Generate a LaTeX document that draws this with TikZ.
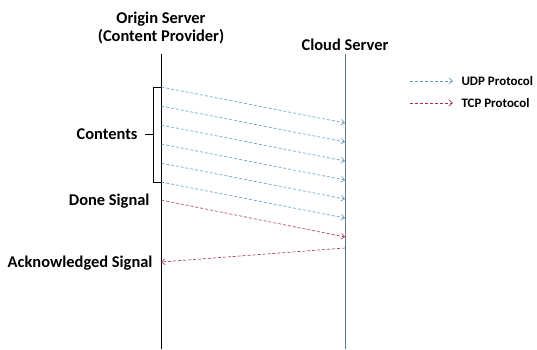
\documentclass[tikz,border=0pt]{standalone}
\usepackage{fontspec}
\setmainfont{Carlito}
\usetikzlibrary{arrows.meta}
\definecolor{udpblue}{RGB}{95,150,195}
\definecolor{tcpred}{RGB}{165,45,80}
\definecolor{lifegray}{RGB}{95,120,145}
\begin{document}
\begin{tikzpicture}
  [x=1bp,y=-1bp,
   every node/.style={font=\bfseries\fontsize{16.5}{19}\selectfont},
   legendtext/.style={font=\bfseries\fontsize{13}{15}\selectfont,anchor=west},
   udp/.style={udpblue,densely dashed,line width=.6pt,-{Straight Barb[length=3.5pt,width=6pt]}},
   tcp/.style={tcpred,densely dashed,line width=.6pt,-{Straight Barb[length=3.5pt,width=6pt]}}]
  \useasboundingbox (0,0) rectangle (537,349);

  \node (origin) at (161,28) [align=center] {Origin Server\\(Content Provider)};
  \node (cloud) at (345,45) {Cloud Server};

  \coordinate (otop) at (161,54);
  \coordinate (obot) at (161,349);
  \coordinate (ctop) at (345,54);
  \coordinate (cbot) at (345,349);
  \draw[line width=.7pt] (otop) -- (obot);
  \draw[lifegray,line width=.7pt] (ctop) -- (cbot);

  \coordinate (o1) at (161,87);
  \coordinate (o2) at (161,106);
  \coordinate (o3) at (161,125);
  \coordinate (o4) at (161,144);
  \coordinate (o5) at (161,163);
  \coordinate (o6) at (161,182);
  \coordinate (o7) at (161,200);
  \coordinate (o8) at (161,262);

  \coordinate (c1) at (345,123);
  \coordinate (c2) at (345,142);
  \coordinate (c3) at (345,161);
  \coordinate (c4) at (345,180);
  \coordinate (c5) at (345,199);
  \coordinate (c6) at (345,218);
  \coordinate (c7) at (345,237);
  \coordinate (c8) at (345,248);

  \draw[udp] (o1) -- (c1);
  \draw[udp] (o2) -- (c2);
  \draw[udp] (o3) -- (c3);
  \draw[udp] (o4) -- (c4);
  \draw[udp] (o5) -- (c5);
  \draw[udp] (o6) -- (c6);
  \draw[tcp] (o7) -- (c7);
  \draw[tcp] (c8) -- (o8);

  % bracket round the contents
  \draw[line width=.6pt] (o1) -| (153,182) -- (o6);
  \draw[line width=.6pt] (153,134) -- (145,134);

  \node (contents) at (141,134) [anchor=east] {Contents};
  \node (done) at (153,201) [anchor=east] {Done Signal};
  \node (ack) at (156,263) [anchor=east] {Acknowledged Signal};

  % legend
  \coordinate (u1) at (410,81);
  \coordinate (u2) at (453,81);
  \coordinate (t1) at (410,103);
  \coordinate (t2) at (453,103);
  \draw[udp] (u1) -- (u2);
  \draw[tcp] (t1) -- (t2);
  \node (udplabel) at (458,81) [legendtext] {UDP Protocol};
  \node (tcplabel) at (458,103) [legendtext] {TCP Protocol};
\end{tikzpicture}
\end{document}
